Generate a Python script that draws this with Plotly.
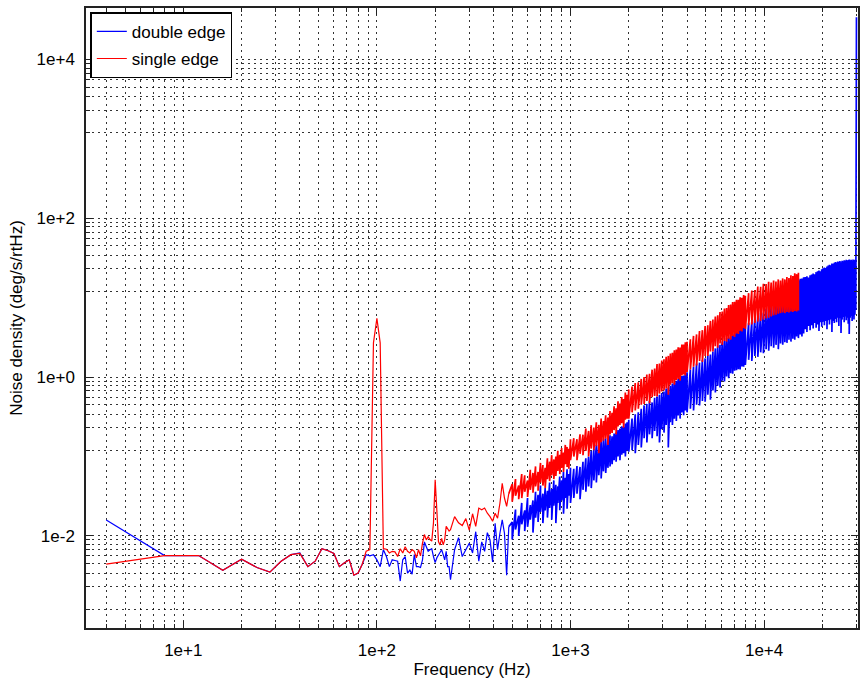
import plotly.graph_objects as go

# ---------------- data ----------------
# low-frequency part: single samples per frequency
low_freq_hz = [
    4, 8, 12, 16, 20, 24, 28, 32, 36, 40, 44, 48, 52, 56, 60, 64, 68, 72, 76, 80,
    84, 88, 92, 96, 100, 104, 108, 112, 116, 120, 124, 128, 132, 136, 140, 144, 148, 152, 156, 160,
    164, 168, 172, 176, 180, 184, 188, 192, 196, 200, 204, 208, 212, 216, 220, 224, 228, 232, 236,
    240, 252, 264, 276, 288, 300, 312, 324, 336, 348, 360, 372, 384, 396, 408, 420, 432, 444, 456, 468, 480,
]
double_edge_low = [
    0.0159, 0.00565, 0.00565, 0.0037, 0.0051, 0.0040, 0.0035, 0.0048, 0.0058, 0.0061,
    0.0041, 0.0048, 0.0069, 0.0065, 0.0060, 0.0041, 0.0046, 0.0050, 0.0032, 0.0034,
    0.0044, 0.0058, 0.0056, 0.0058, 0.0050, 0.0041, 0.0067, 0.0055, 0.0041, 0.0050,
    0.0049, 0.0048, 0.0027, 0.0050, 0.0055, 0.0034, 0.0037, 0.0033, 0.0058, 0.0041,
    0.0041, 0.0040, 0.0050, 0.0084, 0.0073, 0.0064, 0.0067, 0.0069, 0.0055, 0.0046,
    0.0053, 0.0058, 0.0064, 0.0067, 0.0058, 0.0050, 0.0064, 0.0041, 0.0041,
    0.0028, 0.0067, 0.0095, 0.0055, 0.0067, 0.0081, 0.0061, 0.0113, 0.0048, 0.0084,
    0.0064, 0.011, 0.0089, 0.0047, 0.0144, 0.0067, 0.0108, 0.0159, 0.0108, 0.0032, 0.013,
]
single_edge_low = [
    0.0044, 0.00565, 0.00565, 0.0037, 0.0051, 0.0040, 0.0035, 0.0048, 0.0058, 0.0060,
    0.0041, 0.0048, 0.0069, 0.0065, 0.0060, 0.0041, 0.0046, 0.0050, 0.0032, 0.0034,
    0.0044, 0.0064, 0.0067, 2.7, 5.5, 2.7, 0.0069, 0.0068, 0.0061, 0.0064,
    0.0063, 0.0055, 0.0069, 0.0061, 0.0073, 0.0064, 0.0061, 0.0067, 0.0064, 0.0053,
    0.0067, 0.0056, 0.0081, 0.0104, 0.0089, 0.0098, 0.0090, 0.0086, 0.0146, 0.051,
    0.021, 0.0085, 0.0077, 0.0093, 0.0077, 0.0089, 0.0132, 0.012, 0.0115,
    0.012, 0.0175, 0.0146, 0.0135, 0.0165, 0.0118, 0.019, 0.0132, 0.0224, 0.0213,
    0.0224, 0.0193, 0.0175, 0.0153, 0.0193, 0.0167, 0.0258, 0.046, 0.030, 0.0235, 0.034,
]

# dense part: per frequency bin, the max and min of the noisy trace
band_freq_hz = [
    500, 520, 540, 560, 580, 600, 620, 640, 660, 680, 700, 720, 740, 760, 780, 800, 820, 840, 860, 880,
    900, 920, 940, 960, 980, 1000,
    1040, 1080, 1120, 1160, 1200, 1240, 1280, 1320, 1360, 1400, 1440, 1480, 1520, 1560, 1600, 1640,
    1680, 1720, 1760, 1800, 1840, 1880, 1920, 1960, 2000,
    2080, 2160, 2240, 2320, 2400, 2480, 2560, 2640, 2720, 2800, 2880, 2960, 3040, 3120, 3200, 3280,
    3360, 3440, 3520, 3600, 3680, 3760, 3840, 3920, 4000,
    4160, 4320, 4480, 4640, 4800, 4960, 5120, 5280, 5440, 5600, 5760, 5920, 6080, 6240, 6400, 6560,
    6720, 6880, 7040, 7200, 7360, 7520, 7680, 7840, 8000,
    8320, 8640, 8960, 9280, 9600, 9920, 10240, 10560, 10880, 11200, 11520, 11840, 12160, 12480, 12800,
    13120, 13440, 13760, 14080, 14400, 14720, 15040, 15360, 15680, 16000,
    16320, 16640, 16960, 17280, 17600, 17920, 18240, 18560, 18880, 19200, 19520, 19840, 20160, 20480,
    20800, 21120, 21440, 21760, 22080, 22400, 22720, 23040, 23360, 23680, 24000, 24320, 24640, 24960,
    25280, 25600, 25920, 26240, 26560, 26880, 27200, 27520, 27840, 28160, 28480, 28800, 29120, 29440,
    29760, 30000,
]
double_edge_max = [
    0.0150, 0.0215, 0.0180, 0.0260, 0.0210, 0.0300, 0.0245, 0.0280, 0.0360, 0.0330,
    0.0430, 0.0340, 0.0400, 0.0370, 0.0470, 0.0390, 0.0500, 0.0440, 0.0420, 0.0560,
    0.0500, 0.0640, 0.0540, 0.0690, 0.0600, 0.0720,
    0.070, 0.076, 0.074, 0.086, 0.095, 0.100, 0.118, 0.125, 0.140, 0.150, 0.160, 0.168,
    0.170, 0.165, 0.185, 0.180, 0.195, 0.200, 0.215, 0.225, 0.240, 0.235, 0.260, 0.270, 0.290,
    0.30, 0.34, 0.36, 0.40, 0.44, 0.46, 0.50, 0.48, 0.55, 0.57, 0.60, 0.63,
    0.66, 0.72, 0.74, 0.78, 0.83, 0.86, 0.90, 0.95, 0.98, 1.03, 1.05, 1.12, 1.15,
    1.25, 1.35, 1.48, 1.52, 1.65, 1.72, 1.88, 1.92, 2.10, 2.30, 2.50, 2.55,
    2.80, 2.85, 3.10, 3.15, 3.35, 3.45, 3.65, 3.70, 3.90, 4.00, 4.30, 4.35, 4.60,
    4.8, 5.0, 5.6, 5.8, 6.4, 6.5, 7.3, 7.6, 8.1, 8.3, 8.8, 8.9,
    9.4, 9.5, 10.3, 10.9, 12.1, 12.7, 13.9, 14.8, 16.1, 16.6, 17.3, 17.5, 18.1,
    18.2, 18.6, 18.0, 19.2, 19.6, 20.2, 19.8, 21.0, 21.6, 22.0, 21.5, 22.8, 23.5, 24.0,
    23.6, 24.8, 25.5, 26.0, 25.6, 27.0, 26.8, 27.6, 28.2, 27.8, 28.6, 28.3, 29.0, 28.0,
    29.2, 28.7, 29.6, 29.2, 30.0, 29.4, 29.8, 30.2, 29.6, 30.1, 29.5, 30.3, 29.8, 30.0,
    29.4, 34000,
]
double_edge_min = [
    0.0090, 0.0120, 0.0100, 0.0140, 0.0115, 0.0130, 0.0160, 0.0110, 0.0170, 0.0150,
    0.0200, 0.0145, 0.0210, 0.0170, 0.0225, 0.0160, 0.0240, 0.0145, 0.0260, 0.0210,
    0.0280, 0.0190, 0.0300, 0.0220, 0.0320, 0.0260,
    0.030, 0.034, 0.029, 0.038, 0.036, 0.042, 0.040, 0.050, 0.047, 0.058, 0.053, 0.065,
    0.062, 0.072, 0.075, 0.080, 0.090, 0.086, 0.100, 0.090, 0.105, 0.110, 0.100, 0.120, 0.115,
    0.12, 0.11, 0.14, 0.13, 0.17, 0.15, 0.19, 0.17, 0.21, 0.18, 0.15, 0.22,
    0.20, 0.25, 0.13, 0.27, 0.25, 0.30, 0.28, 0.33, 0.30, 0.36, 0.33, 0.38, 0.36,
    0.40, 0.38, 0.45, 0.44, 0.50, 0.49, 0.60, 0.52, 0.68, 0.64, 0.78, 0.74,
    0.90, 0.88, 1.02, 0.97, 1.12, 1.10, 1.20, 1.22, 1.26, 1.25, 1.36, 1.35, 1.42,
    1.65, 1.60, 1.85, 1.80, 2.05, 2.00, 2.25, 2.15, 2.45, 2.35, 2.55, 2.25,
    2.65, 2.55, 2.75, 2.70, 2.95, 2.80, 3.05, 2.95, 3.25, 3.10, 3.45, 3.25, 3.55,
    4.0, 3.7, 4.4, 3.9, 4.5, 4.1, 4.8, 4.2, 4.6, 3.8, 4.9, 4.3, 5.0, 4.5,
    5.1, 4.0, 5.2, 4.6, 5.3, 3.7, 5.1, 4.8, 5.4, 4.9, 5.6, 4.4, 5.5, 3.6,
    5.3, 5.7, 4.9, 5.8, 5.2, 5.6, 4.7, 3.5, 5.6, 5.9, 5.1, 5.8, 5.3, 6.1,
    7.0, 34000,
]
single_edge_max = [
    0.045, 0.052, 0.043, 0.060, 0.058, 0.050, 0.068, 0.062, 0.075, 0.064,
    0.083, 0.078, 0.072, 0.095, 0.086, 0.104, 0.092, 0.100, 0.118, 0.105,
    0.128, 0.112, 0.140, 0.132, 0.125, 0.165,
    0.170, 0.165, 0.190, 0.188, 0.225, 0.210, 0.248, 0.232, 0.270, 0.250, 0.300, 0.280,
    0.330, 0.310, 0.375, 0.355, 0.430, 0.405, 0.495, 0.465, 0.560, 0.530, 0.640, 0.600, 0.700,
    0.76, 0.84, 0.86, 0.95, 1.00, 1.08, 1.10, 1.24, 1.28, 1.46, 1.48, 1.62,
    1.68, 1.80, 1.85, 1.98, 2.02, 2.18, 2.22, 2.38, 2.36, 2.58, 2.58, 2.75, 2.78,
    3.0, 3.3, 3.45, 3.8, 3.9, 4.4, 4.5, 5.1, 5.3, 5.8, 6.0, 6.6,
    6.7, 7.3, 7.4, 8.1, 8.2, 8.8, 8.9, 9.4, 9.4, 10.1, 10.0, 10.8, 10.6,
    11.4, 12.3, 12.5, 13.8, 13.7, 15.0, 14.9, 15.9, 15.5, 16.5, 16.0,
    17.0, 16.5, 17.5, 17.0, 18.2, 17.7, 19.2, 18.8, 20.3, 19.8, 20.6,
]
single_edge_min = [
    0.027, 0.032, 0.029, 0.030, 0.036, 0.031, 0.038, 0.035, 0.042, 0.037,
    0.047, 0.043, 0.040, 0.052, 0.049, 0.058, 0.052, 0.057, 0.066, 0.060,
    0.072, 0.064, 0.080, 0.074, 0.070, 0.090,
    0.100, 0.090, 0.108, 0.104, 0.118, 0.100, 0.126, 0.120, 0.135, 0.110, 0.152, 0.158,
    0.168, 0.140, 0.190, 0.198, 0.215, 0.190, 0.240, 0.250, 0.262, 0.230, 0.290, 0.300, 0.300,
    0.36, 0.38, 0.40, 0.45, 0.46, 0.50, 0.47, 0.56, 0.58, 0.57, 0.62, 0.66,
    0.68, 0.72, 0.60, 0.80, 0.84, 0.80, 0.92, 0.95, 0.90, 1.05, 1.08, 1.05, 1.16,
    1.25, 1.35, 1.40, 1.60, 1.55, 1.85, 1.85, 2.10, 2.10, 2.45, 2.35, 2.65,
    2.55, 2.85, 2.80, 3.05, 2.95, 3.30, 3.20, 3.55, 3.50, 3.85, 3.75, 4.15, 4.05,
    4.5, 4.6, 4.8, 5.0, 5.1, 5.3, 5.5, 5.6, 5.8, 6.0, 6.1,
    6.3, 6.4, 6.5, 6.4, 6.6, 6.5, 6.7, 6.6, 6.8, 6.7, 6.9,
]

series_names = ["double edge", "single edge"]
series_colors = ["#0000ff", "#ff0000"]

x_tick_vals = [10, 100, 1000, 10000]
x_tick_text = ["1e+1", "1e+2", "1e+3", "1e+4"]
y_tick_vals = [1e-2, 1e0, 1e2, 1e4]
y_tick_text = ["1e-2", "1e+0", "1e+2", "1e+4"]

x_minor = [m * 10 ** e for e in range(0, 5) for m in range(2, 10)
           if 3.1 < m * 10 ** e < 31000]
y_minor = [m * 10.0 ** a for a in (-4, -2, 0, 2)
           for m in (12, 23, 34, 45, 56, 67, 78, 89)]


def band_xy(last_f, last_v, vmax, vmin):
    xs, ys = [last_f], [last_v]
    for f, hi, lo in zip(band_freq_hz, vmax, vmin):
        xs += [f, f]
        ys += [hi, lo]
    return xs, ys


fig = go.Figure()
for name, col, grp, low, vmax, vmin in [
    (series_names[0], series_colors[0], "a", double_edge_low, double_edge_max, double_edge_min),
    (series_names[1], series_colors[1], "b", single_edge_low, single_edge_max, single_edge_min),
]:
    n = min(len(low), len(low_freq_hz))
    fig.add_trace(go.Scatter(
        x=low_freq_hz[:n], y=low[:n], mode="lines", name=name, legendgroup=grp,
        line=dict(color=col, width=1.2),
    ))
    bx, by = band_xy(low_freq_hz[n - 1], low[n - 1], vmax, vmin)
    fig.add_trace(go.Scatter(
        x=bx, y=by, mode="lines", name=name, legendgroup=grp, showlegend=False,
        line=dict(color=col, width=1.7),
    ))

grid_col = "rgba(0,0,0,0.8)"
axis_common = dict(
    type="log", tickmode="array", ticks="inside", ticklen=7, tickcolor="#222",
    tickwidth=1, showline=True, linecolor="#222", linewidth=1.5,
    mirror="allticks", showgrid=True, gridcolor=grid_col, gridwidth=1,
    griddash="2px,4px", zeroline=False, ticklabelstandoff=6,
    tickfont=dict(size=17),
)
minor_common = dict(tickmode="array", ticks="inside", ticklen=4, tickcolor="#222",
                    showgrid=True, gridcolor=grid_col, griddash="2px,4px", gridwidth=1)

fig.update_layout(
    width=860, height=683,
    margin=dict(l=86, r=0, t=8, b=55, pad=0),
    paper_bgcolor="white", plot_bgcolor="white",
    font=dict(family="Liberation Sans, Arial, sans-serif", size=17, color="black"),
    xaxis=dict(
        axis_common, range=[0.4975, 4.485],
        tickvals=x_tick_vals, ticktext=x_tick_text,
        minor=dict(minor_common, tickvals=x_minor),
        title=dict(text="Frequency (Hz)", standoff=4, font=dict(size=17)),
    ),
    yaxis=dict(
        axis_common, range=[-3.16, 4.649],
        tickvals=y_tick_vals, ticktext=y_tick_text,
        minor=dict(minor_common, tickvals=y_minor),
        title=dict(text="Noise density (deg/s/rtHz)", standoff=10, font=dict(size=17)),
    ),
    legend=dict(
        x=0.0056, y=0.993, xanchor="left", yanchor="top",
        bgcolor="white", bordercolor="black", borderwidth=1.5,
        font=dict(size=17), traceorder="grouped", tracegroupgap=2,
    ),
    showlegend=True,
)

fig.write_html("out.html")
